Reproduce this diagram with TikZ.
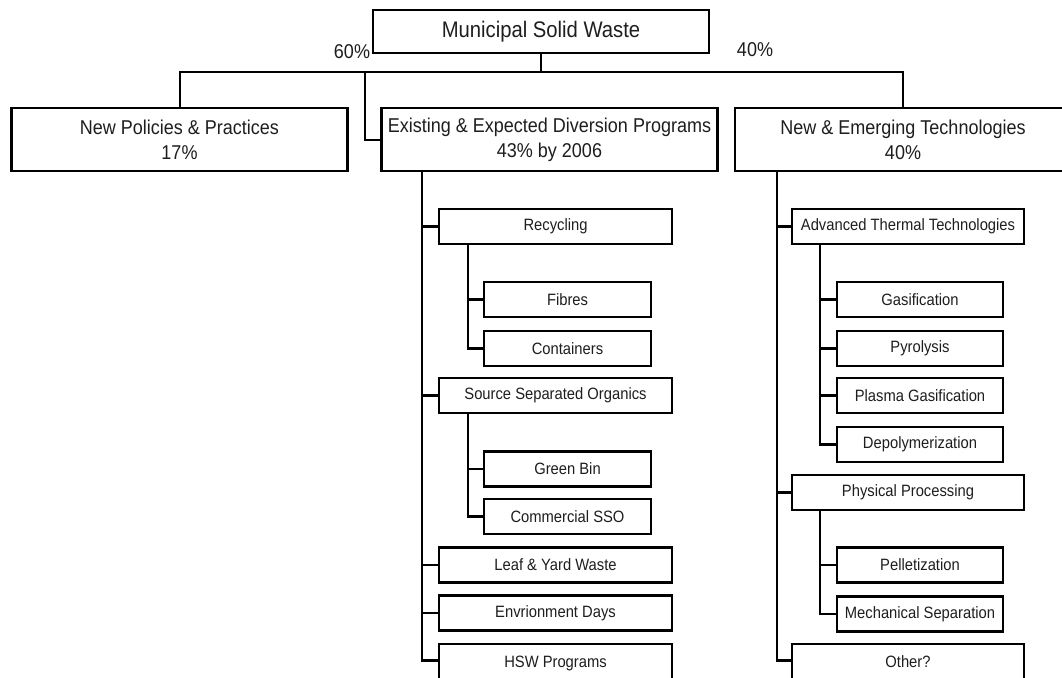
\documentclass[tikz,border=0pt]{standalone}
\usepackage{fontspec}
\setmainfont[FakeStretch=0.9]{Liberation Sans}
\definecolor{txt}{HTML}{1E1E1E}
\begin{document}
\begin{tikzpicture}[x=1pt,y=-1pt,
  box/.style={draw=black,line width=2.4pt,rectangle,inner sep=0pt,text=txt,align=center},
  topbox/.style={box,minimum width=336pt,minimum height=43pt,font=\fontsize{22.5}{26}\selectfont},
  midbox/.style={box,minimum width=336pt,minimum height=63pt,font=\fontsize{20}{25}\selectfont},
  subbox/.style={box,minimum width=233pt,minimum height=35pt,font=\fontsize{16.4}{19}\selectfont},
  leafbox/.style={box,minimum width=167pt,minimum height=35pt,font=\fontsize{16.4}{19}\selectfont},
  lastbox/.style={subbox,minimum height=42pt,anchor=north},
  conn/.style={draw=black,line width=2pt},
  trunk/.style={draw=black,line width=2.8pt},
  pct/.style={text=txt,inner sep=0pt,font=\fontsize{20}{24}\selectfont}]
\useasboundingbox (0,0) rectangle (1062,677);
\clip (0,0) rectangle (1062,677);
\fill[white] (0,0) rectangle (1062,677);

% top level
\node[topbox] (msw) at (541,31.5) {Municipal Solid Waste};
\node[pct] (p60) at (352,52) {60\%};
\node[pct] (p40) at (755,50) {40\%};

\node[midbox] (npp) at (179.5,139.5) {New Policies \& Practices\\17\%};
\node[midbox] (eed) at (549.5,139.5) {Existing \& Expected Diversion Programs\\43\% by 2006};
\node[midbox] (net) at (903,139.5) {New \& Emerging Technologies\\40\%};

\coordinate (bus) at (0,71.5);
\coordinate (eedj) at (365,71.5);
\draw[conn] (msw.south) -- (msw.south |- bus);
\draw[conn] (npp.north) |- (bus -| net.north) -- (net.north);
\draw[conn] (eedj) |- (eed.west);

% left branch
\node[subbox] (rec) at (555.5,226.5) {Recycling};
\node[leafbox] (fib) at (567.5,299.5) {Fibres};
\node[leafbox] (con) at (567.5,348.5) {Containers};
\node[subbox] (sso) at (555.5,395.5) {Source Separated Organics};
\node[leafbox] (gbin) at (567.5,469) {Green Bin};
\node[leafbox] (csso) at (567.5,516.5) {Commercial SSO};
\node[subbox] (leaf) at (555.5,565) {Leaf \& Yard Waste};
\node[subbox] (env) at (555.5,613) {Envrionment Days};
\node[lastbox] (hsw) at (555.5,643) {\raisebox{7pt}{HSW Programs}};

\coordinate (tL) at (422,171);
\coordinate (hswj) at (422,660.5);
\foreach \c in {rec,sso,leaf,env} \draw[trunk] (tL) |- (\c.west);
\draw[trunk] (tL) -- (hswj) -- (hswj -| hsw.west);
\coordinate (sxL) at (468,0);
\foreach \c in {fib,con} \draw[trunk] (rec.south -| sxL) |- (\c.west);
\foreach \c in {gbin,csso} \draw[trunk] (sso.south -| sxL) |- (\c.west);

% right branch
\node[subbox,minimum width=232pt] (att) at (908,226.5) {Advanced Thermal Technologies};
\node[leafbox,minimum width=166pt] (gas) at (920,299.5) {Gasification};
\node[leafbox,minimum width=166pt] (pyr) at (920,348.5) {Pyrolysis};
\node[leafbox,minimum width=166pt] (pla) at (920,395.5) {Plasma Gasification};
\node[leafbox,minimum width=166pt] (dep) at (920,444.5) {Depolymerization};
\node[subbox,minimum width=232pt] (phy) at (908,492.5) {Physical Processing};
\node[leafbox,minimum width=166pt] (pel) at (920,565) {Pelletization};
\node[leafbox,minimum width=166pt] (mec) at (920,614) {Mechanical Separation};
\node[lastbox,minimum width=232pt] (oth) at (908,643) {\raisebox{7pt}{Other?}};

\coordinate (tR) at (777,171.5);
\coordinate (othj) at (777,660.5);
\foreach \c in {att,phy} \draw[trunk] (tR) |- (\c.west);
\draw[trunk] (tR) -- (othj) -- (othj -| oth.west);
\coordinate (sxR) at (820,0);
\foreach \c in {gas,pyr,pla,dep} \draw[trunk] (att.south -| sxR) |- (\c.west);
\foreach \c in {pel,mec} \draw[trunk] (phy.south -| sxR) |- (\c.west);
\end{tikzpicture}
\end{document}
